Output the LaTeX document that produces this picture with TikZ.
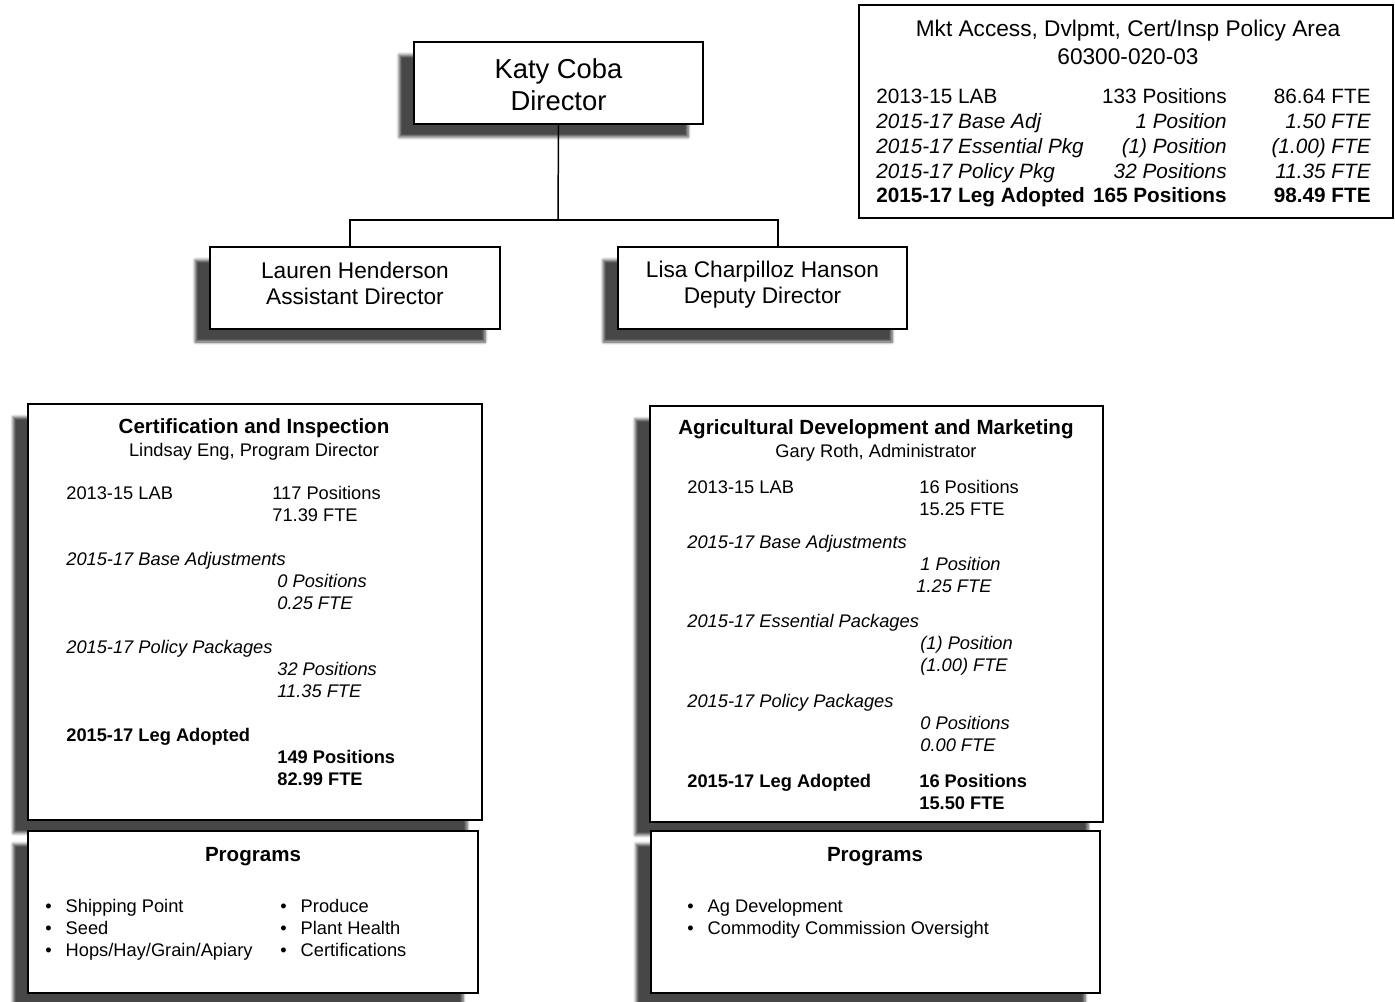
\documentclass[tikz,border=0pt]{standalone}
\usepackage{fontspec}
\setmainfont{Liberation Sans}
\usetikzlibrary{shadows.blur}

\newcommand\bodyfont{\fontsize{10.4}{12.5}\selectfont}
\newcommand\areafont{\fontsize{11.8}{14}\selectfont}
\newcommand\bull{\makebox[11.6pt][l]{•}}

\tikzset{
  orgbox/.style={draw, line width=0.9pt, fill=white, inner sep=0pt,
    blur shadow={shadow xshift=-8.5pt, shadow yshift=-7.4pt,
      shadow blur radius=1.6pt, shadow blur steps=6, shadow opacity=72}},
  areabox/.style={draw, line width=0.9pt, fill=white, inner sep=0pt},
  who/.style={inner sep=0pt, align=center},
  txt/.style={inner sep=0pt, anchor=base west, font=\bodyfont},
  ttl/.style={inner sep=0pt, anchor=base, font=\bfseries\fontsize{11.7}{14}\selectfont},
  sub/.style={inner sep=0pt, anchor=base, font=\bodyfont},
  conn/.style={line width=0.85pt},
}

\begin{document}
\begin{tikzpicture}[x=0.02cm, y=-0.02cm]
  \useasboundingbox (0,0) rectangle (1395,1001);

  % policy area summary
  \node[areabox, minimum width=10.68cm, minimum height=4.26cm] (area) at (1126,111.5) {};
  \node[who, font=\fontsize{12.9}{15.9}\selectfont] (areattl) at (1128,42)
    {Mkt Access, Dvlpmt, Cert/Insp Policy Area\\60300-020-03};
  \foreach \yy/\fnt/\lab/\pos/\fte in {
      95/\upshape/2013-15 LAB/133 Positions/86.64 FTE,
      120/\itshape/2015-17 Base Adj/1 Position/1.50 FTE,
      145/\itshape/2015-17 Essential Pkg/(1) Position/(1.00) FTE,
      170/\itshape/2015-17 Policy Pkg/32 Positions/11.35 FTE,
      194/\bfseries/2015-17 Leg Adopted/165 Positions/98.49 FTE} {
    \node[txt, font=\areafont] (arealab\yy) at (876,{\yy+8}) {\fnt\lab};
    \node[txt, anchor=base east, font=\areafont] (areapos\yy) at (1227,{\yy+8}) {\fnt\pos};
    \node[txt, anchor=base east, font=\areafont] (areafte\yy) at (1371,{\yy+8}) {\fnt\fte};
  }

  % people
  \node[orgbox, minimum width=5.78cm, minimum height=1.64cm] (katy) at (558.5,83) {};
  \node[who, font=\fontsize{15.6}{18.1}\selectfont] (katytxt) at ([yshift=-0.04cm]katy) {Katy Coba\\Director};
  \node[orgbox, minimum width=5.8cm, minimum height=1.64cm] (lauren) at (355,288) {};
  \node[who, font=\fontsize{12.9}{14.8}\selectfont] (laurentxt) at ([yshift=0.1cm]lauren) {Lauren Henderson\\Assistant Director};
  \node[orgbox, minimum width=5.78cm, minimum height=1.64cm] (lisa) at (762.5,288) {};
  \node[who, font=\fontsize{12.9}{14.8}\selectfont] (lisatxt) at ([yshift=0.06cm]lisa) {Lisa Charpilloz Hanson\\Deputy Director};

  \coordinate (bus) at (558,220);
  \draw[conn] (katy.south) -- (bus);
  \draw[conn] ([xshift=-0.1cm]lauren.north) |- (bus) -| ([xshift=0.31cm]lisa.north);

  % certification and inspection
  \node[orgbox, minimum width=9.08cm, minimum height=8.32cm] (cert) at (255,612) {};
  \node[ttl] (certttl) at (254,433) {Certification and Inspection};
  \node[sub] (certsub) at (254,456) {Lindsay Eng, Program Director};
  \foreach \yy/\fnt/\lab in {492/\upshape/2013-15 LAB, 558/\itshape/2015-17 Base Adjustments,
      646/\itshape/2015-17 Policy Packages, 734/\bfseries/2015-17 Leg Adopted}
    \node[txt] (certlab\yy) at (66,{\yy+7}) {\fnt\lab};
  \foreach \xx/\yy/\fnt/\val in {272/492/\upshape/117 Positions, 272/514/\upshape/71.39 FTE,
      277/580/\itshape/0 Positions, 277/602/\itshape/0.25 FTE,
      277/668/\itshape/32 Positions, 277/690/\itshape/11.35 FTE,
      277/756/\bfseries/149 Positions, 277/778/\bfseries/82.99 FTE}
    \node[txt] (certval\yy) at (\xx,{\yy+7}) {\fnt\val};

  \node[orgbox, minimum width=9cm, minimum height=3.24cm] (certprog) at (253,912) {};
  \node[ttl] (certprogttl) at (253,861) {Programs};
  \node[txt] (cp1) at (45,912) {\bull Shipping Point};
  \node[txt] (cp2) at (45,934) {\bull Seed};
  \node[txt] (cp3) at (45,956) {\bull Hops/Hay/Grain/Apiary};
  \node[txt] (cp4) at (280,912) {\bull Produce};
  \node[txt] (cp5) at (280,934) {\bull Plant Health};
  \node[txt] (cp6) at (280,956) {\bull Certifications};

  % agricultural development and marketing
  \node[orgbox, minimum width=9.06cm, minimum height=8.32cm] (agri) at (876.5,614) {};
  \node[ttl] (agrittl) at (876,434) {Agricultural Development and Marketing};
  \node[sub] (agrisub) at (876,457) {Gary Roth, Administrator};
  \foreach \yy/\fnt/\lab in {486/\upshape/2013-15 LAB, 541/\itshape/2015-17 Base Adjustments,
      620/\itshape/2015-17 Essential Packages, 700/\itshape/2015-17 Policy Packages,
      780/\bfseries/2015-17 Leg Adopted}
    \node[txt] (agrilab\yy) at (687,{\yy+7}) {\fnt\lab};
  \foreach \xx/\yy/\fnt/\val in {919/486/\upshape/16 Positions, 919/508/\upshape/15.25 FTE,
      920/563/\itshape/1 Position, 916/585/\itshape/1.25 FTE,
      920/642/\itshape/(1) Position, 920/664/\itshape/(1.00) FTE,
      920/722/\itshape/0 Positions, 920/744/\itshape/0.00 FTE,
      919/780/\bfseries/16 Positions, 919/802/\bfseries/15.50 FTE}
    \node[txt] (agrival\yy) at (\xx,{\yy+7}) {\fnt\val};

  \node[orgbox, minimum width=8.98cm, minimum height=3.24cm] (agriprog) at (875.5,912) {};
  \node[ttl] (agriprogttl) at (875,861) {Programs};
  \node[txt] (ap1) at (687,912) {\bull Ag Development};
  \node[txt] (ap2) at (687,934) {\bull Commodity Commission Oversight};
\end{tikzpicture}
\end{document}
